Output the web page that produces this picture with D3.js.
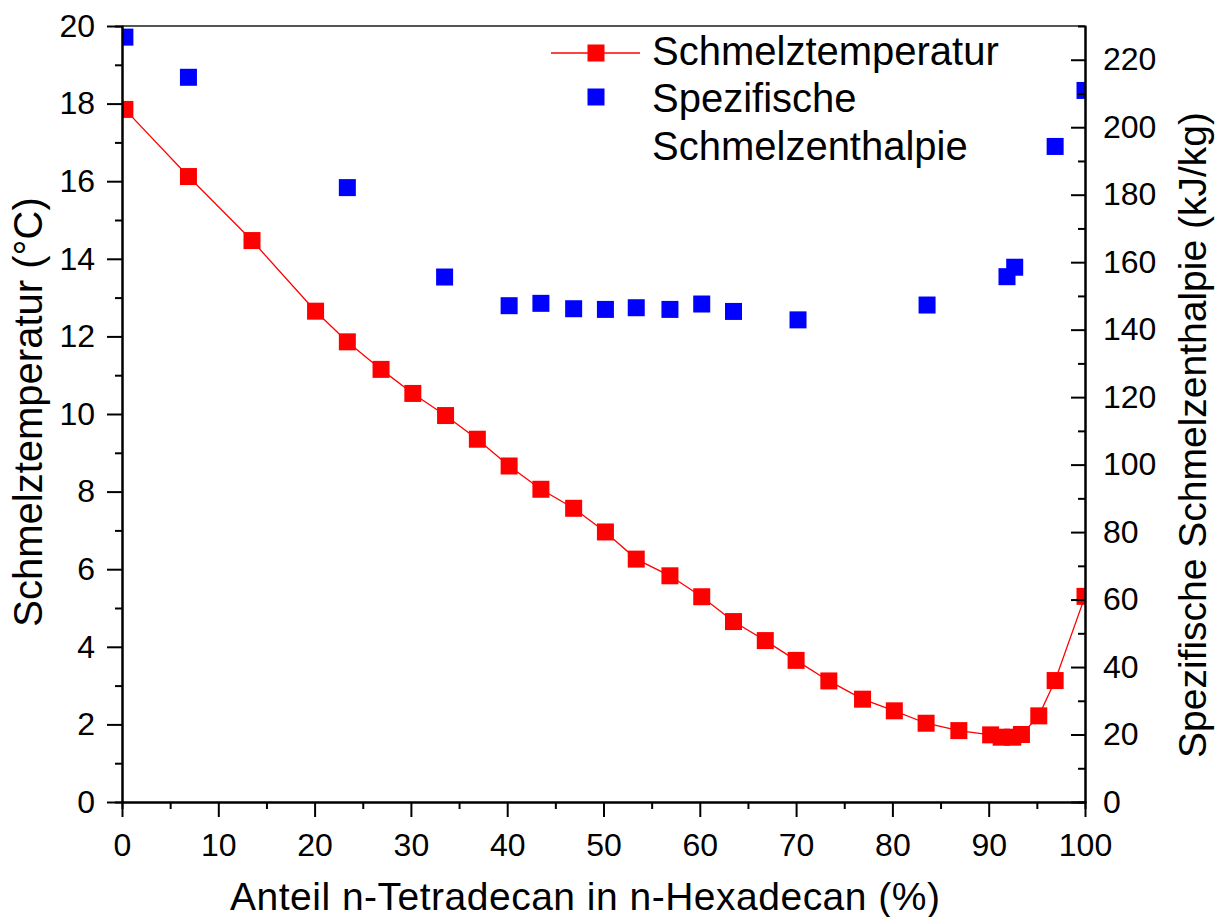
<html>
  <head>
    <meta content="text/html; charset=utf-8" http-equiv="Content-Type">
    <style>
      body { margin: 0; background: white; }
      svg text { font-family: 'Liberation Sans', Arial, sans-serif; fill: black; }
      .axis path, .axis line { stroke: black; stroke-width: 2; }
    </style>
  </head>
  <body>
    <svg id="svg"></svg>

<script src="https://d3js.org/d3.v7.min.js"></script>
<script>

// Schmelztemperatur (left axis, °C)
const tempX = [0.3, 6.9, 13.5, 20.1, 23.4, 26.9, 30.2, 33.6, 36.9, 40.2, 43.5, 46.9, 50.2, 53.4, 56.9, 60.2,
               63.5, 66.8, 70.0, 73.4, 76.9, 80.2, 83.5, 86.9, 90.2, 91.3, 92.5, 93.4, 95.2, 96.9, 100];
const tempY = [17.85, 16.12, 14.47, 12.65, 11.86, 11.15, 10.53, 9.96, 9.35, 8.66, 8.06, 7.57, 6.96, 6.26, 5.83, 5.29,
               4.65, 4.16, 3.65, 3.12, 2.65, 2.35, 2.03, 1.84, 1.73, 1.67, 1.67, 1.74, 2.22, 3.13, 5.3];

// Spezifische Schmelzenthalpie (right axis, kJ/kg)
const enthX = [0.3, 6.9, 23.4, 33.5, 40.2, 43.5, 46.9, 50.2, 53.4, 56.9, 60.2, 63.5, 70.2, 83.6, 91.9, 92.7, 96.9, 100];
const enthY = [226.7, 214.8, 182.1, 155.6, 147.1, 147.8, 146.2, 146.0, 146.5, 146.0, 147.6, 145.4, 142.9, 147.3,
               155.7, 158.5, 194.3, 210.9];

const xTicks = [0, 10, 20, 30, 40, 50, 60, 70, 80, 90, 100];
const xMinor = [5, 15, 25, 35, 45, 55, 65, 75, 85, 95];
const yLeftTicks = [0, 2, 4, 6, 8, 10, 12, 14, 16, 18, 20];
const yLeftMinor = [1, 3, 5, 7, 9, 11, 13, 15, 17, 19];
const yRightTicks = [0, 20, 40, 60, 80, 100, 120, 140, 160, 180, 200, 220];
const yRightMinor = [10, 30, 50, 70, 90, 110, 130, 150, 170, 190, 210];

const legendNames = ["Schmelztemperatur", "Spezifische", "Schmelzenthalpie"];
const xTitle = "Anteil n-Tetradecan in n-Hexadecan (%)";
const yLeftTitle = "Schmelztemperatur (°C)";
const yRightTitle = "Spezifische Schmelzenthalpie (kJ/kg)";

const fullWidth = 1222;
const fullHeight = 917;
const plotLeft = 122, plotRight = 1085, plotTop = 26, plotBottom = 802;
const sq = 17;

const svg = d3.select("#svg")
    .attr("width", fullWidth)
    .attr("height", fullHeight);

const xScale = d3.scaleLinear().domain([0, 100]).range([plotLeft, plotRight]);
const yLeft = d3.scaleLinear().domain([0, 20]).range([plotBottom, plotTop]);
const yRight = d3.scaleLinear().domain([0, 230]).range([plotBottom, plotTop]);

svg.append("clipPath").attr("id", "plotclip")
  .append("rect")
    .attr("x", plotLeft).attr("y", plotTop)
    .attr("width", plotRight - plotLeft).attr("height", plotBottom - plotTop);

const plot = svg.append("g").attr("clip-path", "url(#plotclip)");

const tempData = tempX.map((x, i) => ({x: x, y: tempY[i]}));
const enthData = enthX.map((x, i) => ({x: x, y: enthY[i]}));

plot.append("path")
    .datum(tempData)
    .attr("fill", "none")
    .attr("stroke", "#ff0000")
    .attr("stroke-width", 1.3)
    .attr("d", d3.line().x(d => xScale(d.x)).y(d => yLeft(d.y)));

plot.selectAll(".temp")
    .data(tempData)
    .enter().append("rect")
    .attr("class", "temp")
    .attr("x", d => xScale(d.x) - sq / 2)
    .attr("y", d => yLeft(d.y) - sq / 2)
    .attr("width", sq).attr("height", sq)
    .attr("fill", "#ff0000");

plot.selectAll(".enth")
    .data(enthData)
    .enter().append("rect")
    .attr("class", "enth")
    .attr("x", d => xScale(d.x) - sq / 2)
    .attr("y", d => yRight(d.y) - sq / 2)
    .attr("width", sq).attr("height", sq)
    .attr("fill", "#0000ff");

// top frame line
svg.append("line")
    .attr("x1", plotLeft).attr("x2", plotRight)
    .attr("y1", plotTop).attr("y2", plotTop)
    .attr("stroke", "#555").attr("stroke-width", 2);

// axes
function styleAxis(g) {
  g.attr("class", "axis");
  g.selectAll("text").style("font-size", "32px").attr("fill", "black");
}

svg.append("g")
    .attr("transform", `translate(0, ${plotBottom})`)
    .call(d3.axisBottom(xScale).tickValues(xMinor).tickSize(7).tickFormat(""))
    .call(styleAxis);
svg.append("g")
    .attr("transform", `translate(0, ${plotBottom})`)
    .call(d3.axisBottom(xScale).tickValues(xTicks).tickSize(15).tickSizeOuter(0).tickPadding(16))
    .call(styleAxis);

svg.append("g")
    .attr("transform", `translate(${plotLeft}, 0)`)
    .call(d3.axisLeft(yLeft).tickValues(yLeftMinor).tickSize(7).tickFormat(""))
    .call(styleAxis);
svg.append("g")
    .attr("transform", `translate(${plotLeft}, 0)`)
    .call(d3.axisLeft(yLeft).tickValues(yLeftTicks).tickSize(15).tickSizeOuter(0).tickPadding(12))
    .call(styleAxis);

svg.append("g")
    .attr("transform", `translate(${plotRight}, 0)`)
    .call(d3.axisRight(yRight).tickValues(yRightMinor).tickSize(-7).tickFormat(""))
    .call(styleAxis);
svg.append("g")
    .attr("transform", `translate(${plotRight}, 0)`)
    .call(d3.axisRight(yRight).tickValues(yRightTicks).tickSize(-14).tickSizeOuter(0).tickPadding(18))
    .call(styleAxis);

// axis titles
svg.append("text")
    .attr("x", 230).attr("y", 910)
    .attr("textLength", 710)
    .style("font-size", "39px")
    .text(xTitle);

svg.append("text")
    .attr("transform", "translate(42, 412) rotate(-90)")
    .attr("text-anchor", "middle")
    .style("font-size", "40px")
    .text(yLeftTitle);

svg.append("text")
    .attr("transform", "translate(1206, 435) rotate(-90)")
    .attr("text-anchor", "middle")
    .style("font-size", "39px")
    .text(yRightTitle);

// legend
const legend = svg.append("g");
legend.append("line")
    .attr("x1", 551).attr("x2", 640).attr("y1", 53).attr("y2", 53)
    .attr("stroke", "#ff0000").attr("stroke-width", 1.3);
legend.append("rect")
    .attr("x", 596 - sq / 2).attr("y", 53 - sq / 2)
    .attr("width", sq).attr("height", sq).attr("fill", "#ff0000");
legend.append("rect")
    .attr("x", 596 - sq / 2).attr("y", 97 - sq / 2)
    .attr("width", sq).attr("height", sq).attr("fill", "#0000ff");

const legendY = [65, 112, 160];
legend.selectAll(".leg")
    .data(legendNames)
    .enter().append("text")
    .attr("class", "leg")
    .attr("x", 652)
    .attr("y", (d, i) => legendY[i])
    .style("font-size", "40px")
    .text(d => d);

</script>
</body>
</html>
